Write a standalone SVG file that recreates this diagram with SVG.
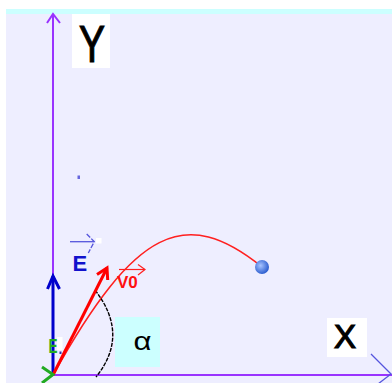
<svg xmlns="http://www.w3.org/2000/svg" width="392" height="383" viewBox="0 0 392 383">
<style>
.axis{stroke:#9933ff;stroke-width:2;fill:none}
.lbl{font-family:"Liberation Sans",Arial,sans-serif}
.thinblue{stroke:#5555dd;stroke-width:1.3;fill:none}
</style>
<defs>
<radialGradient id="ballg" cx="0.4" cy="0.4" r="0.6">
<stop offset="0" stop-color="#a8c4ff"/>
<stop offset="1" stop-color="#2e5fd0"/>
</radialGradient>
</defs>
<rect x="0" y="0" width="392" height="383" fill="#ffffff"/>
<rect x="6" y="14" width="386" height="369" fill="#eeeeff"/>
<rect x="6" y="9" width="386" height="5" fill="#ccffff"/>

<g id="y-axis">
<line class="axis" x1="53" y1="375" x2="53" y2="14"/>
<polyline class="axis" points="47,23 53,14 60,23"/>
</g>
<g id="x-axis">
<line class="axis" x1="53" y1="375" x2="392" y2="375"/>
<polyline class="thinblue" points="371,354 391,374 378,384"/>
</g>
<g id="y-label">
<rect x="72" y="14" width="38" height="54" fill="#ffffff"/>
<text class="lbl" x="79" y="62" font-size="51" textLength="26" lengthAdjust="spacingAndGlyphs" fill="#000" stroke="#000" stroke-width="1.2">Y</text>
</g>
<g id="x-label">
<rect x="327" y="318" width="40" height="39" fill="#ffffff"/>
<text class="lbl" x="334" y="348" font-size="33" fill="#000" stroke="#000" stroke-width="1.2">X</text>
</g>
<g id="dot">
<rect x="77.5" y="175.5" width="2.5" height="3.5" fill="#6666dd"/>
</g>

<g id="connectors">
<path id="trajectory" d="M53,375 C135,228 185,205 262,267" fill="none" stroke="#ff2020" stroke-width="1.6"/>
<path id="alpha-arc" d="M95,290 Q130,335 96,377" fill="none" stroke="#000" stroke-width="1.4" stroke-dasharray="4 1.2"/>
</g>

<g id="alpha-label">
<rect x="115" y="317" width="45" height="50" fill="#ccffff"/>
<text class="lbl" x="133.5" y="350" font-size="25" textLength="18" lengthAdjust="spacingAndGlyphs" fill="#000">α</text>
</g>

<g id="E-vector">
<line x1="53" y1="375" x2="53" y2="276" stroke="#0000cc" stroke-width="3"/>
<polyline points="47.5,289 53,276 59.5,289" fill="none" stroke="#0000cc" stroke-width="3"/>
</g>
<g id="E-label">
<text class="lbl" x="72.5" y="271" font-size="22" font-weight="bold" fill="#1111cc">E</text>
<line class="thinblue" x1="70" y1="241.7" x2="94" y2="241.7"/>
<polyline class="thinblue" points="86.7,234 94.3,241.7 88.3,253" stroke-dasharray="5 1.5"/>
<rect x="96" y="238" width="5.5" height="5.5" fill="#ffffff"/>
</g>

<g id="V0-vector">
<line x1="53" y1="375" x2="107" y2="268" stroke="#ff0000" stroke-width="3"/>
<polyline points="97,274.6 107,268 107.7,280" fill="none" stroke="#ff0000" stroke-width="3"/>
</g>
<g id="V0-label">
<text class="lbl" x="117" y="288" font-size="17" font-weight="bold" fill="#ff1010">V0</text>
<line x1="119" y1="269.5" x2="145" y2="269.5" stroke="#ff2020" stroke-width="1.2"/>
<polyline points="138,264.5 145,269.5 138,275" fill="none" stroke="#ff2020" stroke-width="1.2"/>
</g>

<g id="green-vector">
<polyline points="42,367 53,374.5 42,383" fill="none" stroke="#22aa22" stroke-width="3"/>
<rect x="57" y="337" width="5.5" height="13" fill="#ffffff"/>
<text class="lbl" x="48.5" y="352.5" font-size="20" font-weight="bold" textLength="9" lengthAdjust="spacingAndGlyphs" fill="#22aa22">E</text>
<rect x="59.5" y="351.5" width="2" height="2.5" fill="#3333aa"/>
</g>

<g id="ball">
<circle cx="262" cy="267" r="7" fill="url(#ballg)"/>
</g>
</svg>
